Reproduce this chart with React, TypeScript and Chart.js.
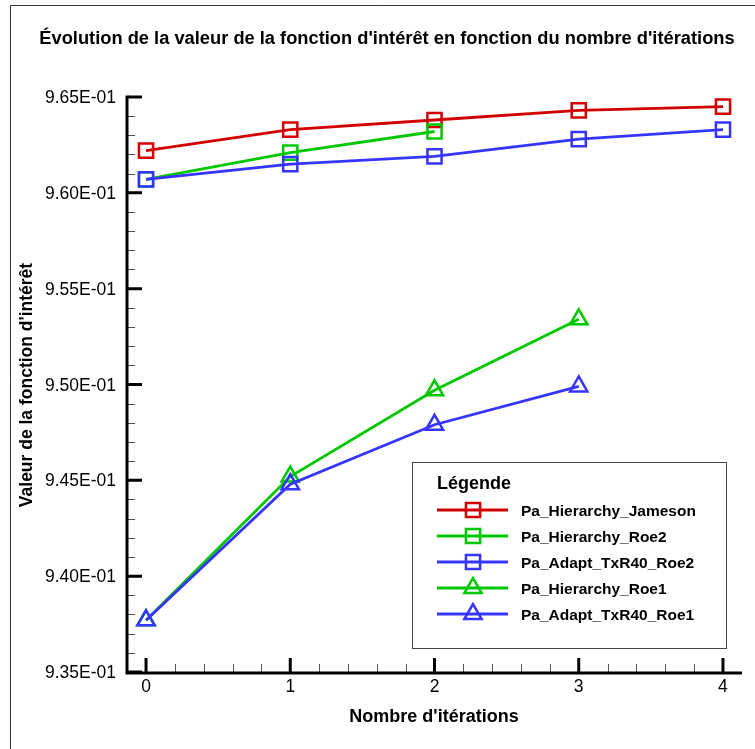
import React, { useEffect, useRef } from 'react';
import { Chart, registerables } from 'chart.js';
import { drawPoint } from 'chart.js/helpers';

Chart.register(...registerables);

const TITLE = "Évolution de la valeur de la fonction d'intérêt en fonction du nombre d'itérations";
const X_TITLE = "Nombre d'itérations";
const Y_TITLE = "Valeur de la fonction d'intérêt";
const LEGEND_TITLE = 'Légende';

const iterations = [0, 1, 2, 3, 4];
const xTicks = [0, 1, 2, 3, 4];
const yTicks = [0.935, 0.94, 0.945, 0.95, 0.955, 0.96, 0.965];

const seriesNames = [
  'Pa_Hierarchy_Jameson',
  'Pa_Hierarchy_Roe2',
  'Pa_Adapt_TxR40_Roe2',
  'Pa_Hierarchy_Roe1',
  'Pa_Adapt_TxR40_Roe1',
];
const hierarchyJameson = [0.9622, 0.9633, 0.9638, 0.9643, 0.9645];
const hierarchyRoe2 = [0.9607, 0.9621, 0.9632];
const adaptRoe2 = [0.9607, 0.9615, 0.9619, 0.9628, 0.9633];
const hierarchyRoe1 = [0.9377, 0.9452, 0.9497, 0.9534];
const adaptRoe1 = [0.9377, 0.9448, 0.9479, 0.9499];

const seriesValues = [hierarchyJameson, hierarchyRoe2, adaptRoe2, hierarchyRoe1, adaptRoe1];
const seriesColors = ['#d20000', '#00c800', '#3535ff', '#00c800', '#3535ff'];
const seriesMarkers = ['rect', 'rect', 'rect', 'triangle', 'triangle'];

const FONT = '"Liberation Sans", Arial, Helvetica, sans-serif';

function fmtExp(v: number): string {
  const [m, e] = v.toExponential(2).split('e');
  const n = parseInt(e, 10);
  return m + 'E' + (n < 0 ? '-' : '+') + String(Math.abs(n)).padStart(2, '0');
}

const decorPlugin = {
  id: 'decor',
  beforeDatasetsDraw(chart: any) {
    const ctx: CanvasRenderingContext2D = chart.ctx;
    const { left, right, top, bottom } = chart.chartArea;
    const xs = chart.scales.x;
    const ys = chart.scales.y;
    ctx.save();

    // page frame
    ctx.strokeStyle = '#333';
    ctx.lineWidth = 1;
    ctx.beginPath();
    ctx.moveTo(10.5, chart.height);
    ctx.lineTo(10.5, 5.5);
    ctx.lineTo(chart.width, 5.5);
    ctx.stroke();

    // main title
    ctx.fillStyle = '#000';
    ctx.font = `bold 18.3px ${FONT}`;
    ctx.textAlign = 'center';
    ctx.textBaseline = 'alphabetic';
    ctx.fillText(TITLE, 387, 44);

    // minor ticks
    ctx.strokeStyle = '#555';
    ctx.lineWidth = 1;
    ctx.beginPath();
    for (let i = 0; i <= 30; i++) {
      if (i % 5 === 0) continue;
      const py = Math.round(ys.getPixelForValue(0.935 + i * 0.001)) + 0.5;
      ctx.moveTo(left, py);
      ctx.lineTo(left + 7, py);
    }
    for (let i = 0; i <= 20; i++) {
      if (i % 5 === 0) continue;
      const px = Math.round(xs.getPixelForValue(i * 0.2)) + 0.5;
      ctx.moveTo(px, bottom);
      ctx.lineTo(px, bottom - 8);
    }
    ctx.stroke();

    // major ticks
    ctx.strokeStyle = '#000';
    ctx.lineWidth = 3;
    ctx.beginPath();
    yTicks.forEach((v) => {
      const py = ys.getPixelForValue(v);
      ctx.moveTo(left, py);
      ctx.lineTo(left + 14, py);
    });
    xTicks.forEach((v) => {
      const px = xs.getPixelForValue(v);
      ctx.moveTo(px, bottom);
      ctx.lineTo(px, bottom - 14);
    });
    ctx.stroke();

    // axis lines
    ctx.beginPath();
    ctx.moveTo(left - 1, top - 1.5);
    ctx.lineTo(left - 1, bottom + 1);
    ctx.lineTo(right + 1, bottom + 1);
    ctx.stroke();

    // tick labels
    ctx.fillStyle = '#000';
    ctx.font = `17.5px ${FONT}`;
    ctx.textAlign = 'right';
    ctx.textBaseline = 'alphabetic';
    yTicks.forEach((v) => {
      ctx.fillText(fmtExp(v), 116, ys.getPixelForValue(v) + 6);
    });
    ctx.textAlign = 'center';
    xTicks.forEach((v) => {
      ctx.fillText(String(v), xs.getPixelForValue(v), 692);
    });

    // axis titles
    ctx.font = `bold 18px ${FONT}`;
    ctx.fillText(X_TITLE, 434, 722);
    ctx.save();
    ctx.translate(32, 385);
    ctx.rotate(-Math.PI / 2);
    ctx.font = `bold 17.5px ${FONT}`;
    ctx.fillText(Y_TITLE, 0, 0);
    ctx.restore();

    ctx.restore();
  },
  afterDatasetsDraw(chart: any) {
    const ctx: CanvasRenderingContext2D = chart.ctx;
    ctx.save();
    // legend box
    ctx.fillStyle = '#fff';
    ctx.fillRect(412, 462, 315, 187);
    ctx.strokeStyle = '#444';
    ctx.lineWidth = 1;
    ctx.strokeRect(412.5, 462.5, 314, 186);

    ctx.fillStyle = '#000';
    ctx.font = `bold 18px ${FONT}`;
    ctx.textAlign = 'left';
    ctx.textBaseline = 'alphabetic';
    ctx.fillText(LEGEND_TITLE, 437, 489);

    chart.data.datasets.forEach((ds: any, i: number) => {
      const y = 510 + 26 * i;
      ctx.strokeStyle = ds.borderColor;
      ctx.lineWidth = 2.8;
      ctx.beginPath();
      ctx.moveTo(437, y);
      ctx.lineTo(508, y);
      ctx.stroke();
      ctx.fillStyle = 'rgba(0,0,0,0)';
      ctx.lineWidth = 2.5;
      drawPoint(ctx, { pointStyle: ds.pointStyle, radius: 10, rotation: 0, borderWidth: 2.5 } as any, 473, y);
      ctx.fillStyle = '#000';
      ctx.font = `bold 15.5px ${FONT}`;
      ctx.fillText(ds.label, 521, y + 5.5);
    });
    ctx.restore();
  },
};

export default function App() {
  const ref = useRef<HTMLCanvasElement>(null);
  useEffect(() => {
    document.body.style.margin = '0';
    const datasets = seriesNames.map((name, i) => ({
      label: name,
      data: seriesValues[i].map((v, k) => ({ x: iterations[k], y: v })),
      borderColor: seriesColors[i],
      borderWidth: 2.8,
      pointStyle: seriesMarkers[i],
      pointRadius: 10,
      pointBorderWidth: 2.5,
      pointBorderColor: seriesColors[i],
      pointBackgroundColor: 'rgba(0,0,0,0)',
      tension: 0,
      fill: false,
      clip: false,
      order: seriesNames.length - i,
    }));
    const chart = new Chart(ref.current!, {
      type: 'line',
      data: { datasets },
      options: {
        responsive: false,
        animation: false,
        events: [],
        layout: { padding: { left: 128, right: 14, top: 97, bottom: 77 } },
        plugins: {
          legend: { display: false },
          title: { display: false },
          tooltip: { enabled: false },
        },
        scales: {
          x: { type: 'linear', min: -0.125, max: 4.125, display: false },
          y: { type: 'linear', min: 0.935, max: 0.965, display: false },
        },
      },
      plugins: [decorPlugin],
    } as any);
    return () => chart.destroy();
  }, []);
  return <canvas ref={ref} width={755} height={749} style={{ display: 'block' }} />;
}
